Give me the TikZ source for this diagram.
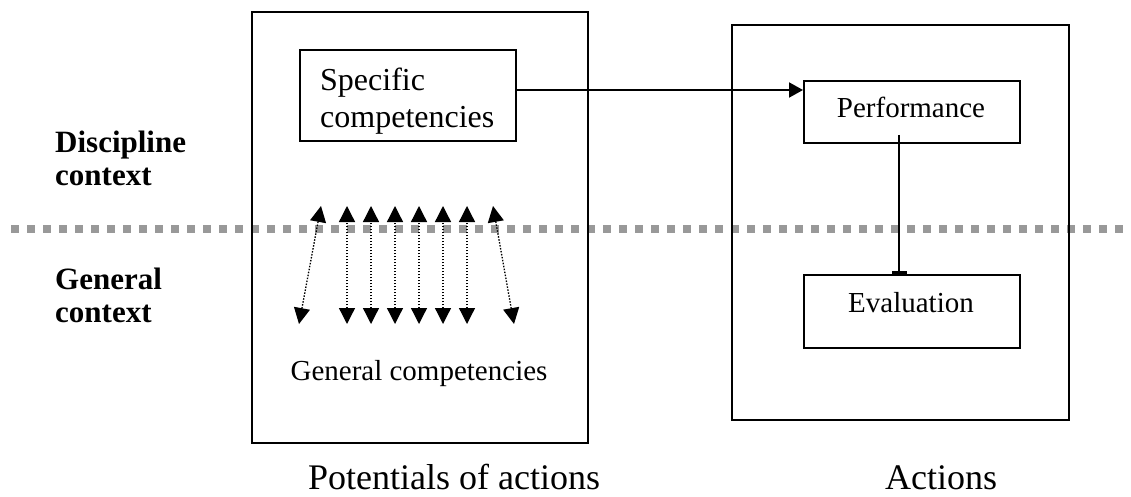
\documentclass[tikz,border=0pt]{standalone}
\usepackage{fontspec}
\setmainfont{Liberation Serif}
\usetikzlibrary{arrows.meta}
\begin{document}
\begin{tikzpicture}[x=1pt,y=-1pt,
  box/.style={draw, line width=2pt, inner sep=0pt, anchor=north west},
  sep/.style={draw=black!40, line width=8pt, dash pattern=on 8pt off 8pt},
  dbl/.style={line width=1.3pt, dash pattern=on 1.5pt off 1.5pt,
    {Triangle[length=16pt,width=16pt]}-{Triangle[length=16pt,width=16pt]}},
  conn/.style={line width=2pt},
  lbl/.style={inner sep=0pt, font=\fontsize{29}{33}\selectfont},
  ctx/.style={inner sep=0pt, anchor=north west, align=left, font=\fontsize{31}{33}\selectfont\bfseries},
  ttl/.style={inner sep=0pt, anchor=base west, font=\fontsize{36}{40}\selectfont}]
\useasboundingbox (0,0) rectangle (1131,497);
% separator
\coordinate (s1) at (11,229);
\coordinate (s2) at (1123,229);
\draw[sep] (s1) -- (s2);
% boxes
\node[box, minimum width=336pt, minimum height=431pt] (pot) at (251,11) {};
\node[box, minimum width=216pt, minimum height=91pt] (spec) at (299,49) {};
\node[box, minimum width=337pt, minimum height=395pt] (act) at (731,24) {};
\node[box, minimum width=216pt, minimum height=62pt] (perf) at (803,80) {};
\node[box, minimum width=216pt, minimum height=73pt] (eval) at (803,274) {};
% texts
\node[inner sep=0pt, anchor=north west, align=left, font=\fontsize{32}{37}\selectfont] (spectxt) at (320,68) {Specific\\competencies};
\node[lbl, anchor=base] (perftxt) at (911,118) {Performance};
\node[lbl, anchor=base] (evaltxt) at (911,312) {Evaluation};
\node[lbl, anchor=base] (gentxt) at (419,380) {General competencies};
\node[ctx] (disc) at (55,131) {Discipline\\context};
\node[ctx] (genc) at (55,268) {General\\context};
\node[ttl] (pottxt) at (308,489) {Potentials of actions};
\node[ttl] (acttxt) at (885,489) {Actions};
% connectors
\coordinate (a1) at (515,90);
\draw[conn, -{Triangle[length=14pt,width=15pt]}] (a1) -- (a1 -| perf.west);
\coordinate (pe) at (899,135);
\draw[conn, -{Rectangle[length=3pt,width=15pt]}] (pe) -- (pe |- eval.north);
% double arrows
\foreach \i/\xt/\xb in {1/321/299, 2/347/347, 3/371/371, 4/395/395, 5/419/419, 6/443/443, 7/467/467, 8/493/514} {
  \coordinate (t\i) at (\xt,206);
  \coordinate (b\i) at (\xb,324);
  \draw[dbl] (b\i) -- (t\i);
}
\end{tikzpicture}
\end{document}
